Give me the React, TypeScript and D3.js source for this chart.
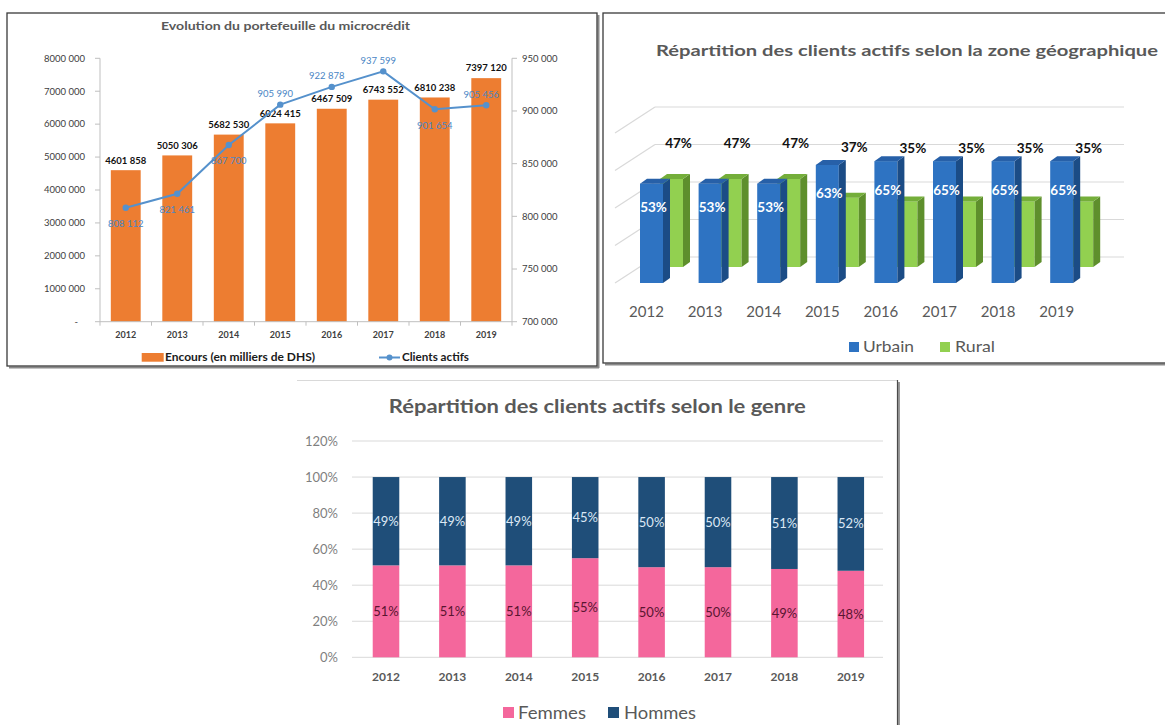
import React from 'react';
import * as d3 from 'd3';

// ---------- DATA ----------
const years = ['2012', '2013', '2014', '2015', '2016', '2017', '2018', '2019'];
const encours = [4601858, 5050306, 5682530, 6024415, 6467509, 6743552, 6810238, 7397120];
const clientsActifs = [808112, 821461, 867700, 905990, 922878, 937599, 901654, 905456];
const encoursTicks = [0, 1000000, 2000000, 3000000, 4000000, 5000000, 6000000, 7000000, 8000000];
const clientsTicks = [700000, 750000, 800000, 850000, 900000, 950000];

const urbain = [53, 53, 53, 63, 65, 65, 65, 65];
const rural = [47, 47, 47, 37, 35, 35, 35, 35];
const geoGrid = [0, 20, 40, 60, 80];

const femmes = [51, 51, 51, 55, 50, 50, 49, 48];
const hommes = [49, 49, 49, 45, 50, 50, 51, 52];
const pctTicks = [0, 20, 40, 60, 80, 100, 120];

// ---------- LAYOUT / STYLE ----------
const FONT = 'Lato, "Open Sans", sans-serif';
const lineLabelSide = ['below', 'below', 'below', 'above', 'above', 'above', 'below', 'above'];

function fmtSpace(n: number) {
  if (n === 0) return '-';
  const th = Math.floor(n / 1000);
  const r = n % 1000;
  return `${th} ${String(r).padStart(3, '0')}`;
}

function Chart1() {
  const x = d3.scaleBand<string>().domain(years).range([100, 512]).paddingInner(0.42).paddingOuter(0.21);
  const yL = d3.scaleLinear().domain([0, 8000000]).range([321.7, 58.3]);
  const yR = d3.scaleLinear().domain([700000, 950000]).range([321.7, 58.3]);
  const cx = (i: number) => (x(years[i]) as number) + x.bandwidth() / 2;
  const line = d3.line<number>().x((_, i) => cx(i)).y((d) => yR(d));
  const [r0, r1] = x.range();
  const boundaries = d3.range(years.length + 1).map((j) => r0 + j * x.step());
  const lineColor = '#5591CC';
  return (
    <g fontFamily={FONT}>
      {/* panel */}
      <line x1={9} y1={367.5} x2={599} y2={367.5} stroke="#8a8a8a" strokeWidth={2} />
      <line x1={598.5} y1={15} x2={598.5} y2={368} stroke="#8a8a8a" strokeWidth={2} />
      <rect x={7} y={13} width={590} height={353} fill="#fff" stroke="#3a3a3a" strokeWidth={1.3} />
      <text x={285.5} y={30} textAnchor="middle" fontSize={11} fontWeight={700} fill="#595959" textLength={249} lengthAdjust="spacingAndGlyphs">
        Evolution du portefeuille du microcrédit
      </text>
      {/* bars */}
      {encours.map((v, i) => (
        <rect key={i} x={x(years[i])} y={yL(v)} width={x.bandwidth()} height={yL(0) - yL(v)} fill="#ED7D31" />
      ))}
      {/* axes */}
      <line x1={r0} y1={yL(8000000)} x2={r0} y2={yL(0)} stroke="#bfbfbf" />
      <line x1={r1} y1={yR(950000)} x2={r1} y2={yR(700000)} stroke="#bfbfbf" />
      <line x1={r0} y1={yL(0)} x2={r1} y2={yL(0)} stroke="#bfbfbf" />
      {encoursTicks.map((t) => (
        <g key={t}>
          <line x1={r0 - 5} x2={r0} y1={yL(t)} y2={yL(t)} stroke="#bfbfbf" />
          <text x={t === 0 ? 78 : 85} y={yL(t)} dy="0.35em" textAnchor="end" fontSize={9.5} fill="#404040">
            {fmtSpace(t)}
          </text>
        </g>
      ))}
      {clientsTicks.map((t) => (
        <g key={t}>
          <line x1={r1} x2={r1 + 5} y1={yR(t)} y2={yR(t)} stroke="#bfbfbf" />
          <text x={522} y={yR(t)} dy="0.35em" textAnchor="start" fontSize={9.5} fill="#404040">
            {fmtSpace(t)}
          </text>
        </g>
      ))}
      {boundaries.map((b, j) => (
        <line key={j} x1={b} x2={b} y1={yL(0)} y2={yL(0) + 4} stroke="#bfbfbf" />
      ))}
      {years.map((yr, i) => (
        <text key={yr} x={cx(i)} y={335} dy="0.35em" textAnchor="middle" fontSize={9} fontWeight={700} fill="#404040">
          {yr}
        </text>
      ))}
      {/* bar labels */}
      {encours.map((v, i) => (
        <text key={i} x={cx(i)} y={yL(v) - 10} dy="0.35em" textAnchor="middle" fontSize={9.5} fontWeight={700} fill="#111">
          {fmtSpace(v)}
        </text>
      ))}
      {/* line */}
      <path d={line(clientsActifs) as string} fill="none" stroke={lineColor} strokeWidth={2} />
      {clientsActifs.map((v, i) => (
        <circle key={i} cx={cx(i)} cy={yR(v)} r={3.2} fill={lineColor} />
      ))}
      {clientsActifs.map((v, i) => {
        const above = lineLabelSide[i] === 'above';
        return (
          <text key={i} x={cx(i) + (above ? -5 : 0)} y={yR(v) + (above ? -11 : 16)} dy="0.35em" textAnchor="middle" fontSize={9.5} fill="#4A86C5">
            {fmtSpace(v)}
          </text>
        );
      })}
      {/* legend */}
      <rect x={141.7} y={353} width={22} height={8.7} fill="#ED7D31" />
      <text x={165} y={357.5} dy="0.35em" fontSize={10.5} fontWeight={700} fill="#1a1a1a" textLength={150} lengthAdjust="spacingAndGlyphs">
        Encours (en milliers de DHS)
      </text>
      <line x1={379} x2={400} y1={357.5} y2={357.5} stroke={lineColor} strokeWidth={2} />
      <circle cx={389.5} cy={357.5} r={3} fill={lineColor} />
      <text x={402} y={357.5} dy="0.35em" fontSize={10.5} fontWeight={700} fill="#1a1a1a" textLength={67} lengthAdjust="spacingAndGlyphs">
        Clients actifs
      </text>
    </g>
  );
}

function Chart2() {
  const step = 58.6;
  const x = d3.scaleBand<string>().domain(years).range([620, 620 + step * years.length]);
  const k = d3.scaleLinear().domain([0, 80]).range([0, 150]);
  const ruralLabelY = d3.scaleLinear().domain([35, 47]).range([148, 143]);
  const floorU = 283, floorR = 267, floorW = 257;
  const w = 23, ddx = 7, ddy = -5;
  const bar = (x0: number, floor: number, h: number, cf: string, cs: string, ct: string, key: string) => {
    const top = floor - h;
    return (
      <g key={key}>
        <rect x={x0} y={top} width={w} height={h} fill={cf} />
        <polygon points={`${x0 + w},${top} ${x0 + w + ddx},${top + ddy} ${x0 + w + ddx},${floor + ddy} ${x0 + w},${floor}`} fill={cs} />
        <polygon points={`${x0},${top} ${x0 + ddx},${top + ddy} ${x0 + w + ddx},${top + ddy} ${x0 + w},${top}`} fill={ct} />
      </g>
    );
  };
  return (
    <g fontFamily={FONT}>
      <line x1={605} y1={364.5} x2={1170} y2={364.5} stroke="#8a8a8a" strokeWidth={2} />
      <rect x={603} y={13} width={580} height={350} fill="#fff" stroke="#3a3a3a" strokeWidth={1.3} />
      <text x={656} y={51} dy="0.35em" fontSize={15} fontWeight={700} fill="#595959" textLength={502} lengthAdjust="spacingAndGlyphs">
        Répartition des clients actifs selon la zone géographique
      </text>
      {/* walls */}
      {geoGrid.map((g) => {
        const yy = floorW - k(g);
        return (
          <g key={g}>
            <line x1={655} x2={1124} y1={yy} y2={yy} stroke="#d9d9d9" strokeWidth={1.2} />
            <line x1={615} x2={655} y1={yy + 26} y2={yy} stroke="#d9d9d9" strokeWidth={1.2} />
          </g>
        );
      })}
      {rural.map((v, i) => bar((x(years[i]) as number) + 40, floorR, k(v), '#92D050', '#5E8F2C', '#74AE3A', 'r' + i))}
      {urbain.map((v, i) => bar((x(years[i]) as number) + 20, floorU, k(v), '#2E73C2', '#1B4C86', '#2760A8', 'u' + i))}
      {urbain.map((v, i) => (
        <text key={'ul' + i} x={(x(years[i]) as number) + 20 + w / 2 + 2} y={floorU - 0.76 * k(v)} dy="0.35em" textAnchor="middle" fontSize={13.5} fontWeight={700} fill="#fff">
          {v}%
        </text>
      ))}
      {rural.map((v, i) => (
        <text key={'rl' + i} x={(x(years[i]) as number) + 40 + w / 2 + 7} y={ruralLabelY(v)} dy="0.35em" textAnchor="middle" fontSize={13.5} fontWeight={700} fill="#111">
          {v}%
        </text>
      ))}
      {years.map((yr) => (
        <text key={yr} x={(x(yr) as number) + 26.5} y={312} dy="0.35em" textAnchor="middle" fontSize={15} fill="#595959">
          {yr}
        </text>
      ))}
      <rect x={849} y={342} width={10} height={10} fill="#2E73C2" />
      <text x={863} y={347} dy="0.35em" fontSize={15} fill="#595959" textLength={51} lengthAdjust="spacingAndGlyphs">Urbain</text>
      <rect x={940} y={342} width={10} height={10} fill="#92D050" />
      <text x={955} y={347} dy="0.35em" fontSize={15} fill="#595959" textLength={40} lengthAdjust="spacingAndGlyphs">Rural</text>
    </g>
  );
}

function Chart3() {
  const x = d3.scaleBand<string>().domain(years).range([352.8, 884]).paddingInner(0.6).paddingOuter(0.3);
  const y = d3.scaleLinear().domain([0, 120]).range([657.3, 441]);
  const rows = years.map((yr, i) => ({ year: yr, Femmes: femmes[i], Hommes: hommes[i] }));
  const stacked = d3.stack<any>().keys(['Femmes', 'Hommes'])(rows);
  const colors: Record<string, string> = { Femmes: '#F4679C', Hommes: '#1F4E79' };
  const labelColors: Record<string, string> = { Femmes: '#5A1530', Hommes: '#DCE8F5' };
  return (
    <g fontFamily={FONT}>
      <line x1={297} x2={897} y1={380.5} y2={380.5} stroke="#d9d9d9" />
      <line x1={899} x2={899} y1={382} y2={725} stroke="#9a9a9a" strokeWidth={2} />
      <line x1={897.5} x2={897.5} y1={380} y2={725} stroke="#4a4a4a" strokeWidth={1.2} />
      <text x={597.3} y={407} dy="0.35em" textAnchor="middle" fontSize={18} fontWeight={700} fill="#595959" textLength={417} lengthAdjust="spacingAndGlyphs">
        Répartition des clients actifs selon le genre
      </text>
      {pctTicks.map((t) => (
        <g key={t}>
          <line x1={352} x2={883} y1={y(t)} y2={y(t)} stroke="#d9d9d9" />
          <text x={338} y={y(t)} dy="0.35em" textAnchor="end" fontSize={13} fill="#7f7f7f">{t}%</text>
        </g>
      ))}
      {stacked.map((s) => (
        <g key={s.key}>
          {s.map((d, i) => (
            <rect key={i} x={x(years[i])} y={y(d[1])} width={x.bandwidth()} height={y(d[0]) - y(d[1])} fill={colors[s.key]} />
          ))}
        </g>
      ))}
      {stacked.map((s) => (
        <g key={'l' + s.key}>
          {s.map((d, i) => (
            <text key={i} x={(x(years[i]) as number) + x.bandwidth() / 2} y={y((d[0] + d[1]) / 2)} dy="0.35em" textAnchor="middle" fontSize={13} fill={labelColors[s.key]}>
              {d[1] - d[0]}%
            </text>
          ))}
        </g>
      ))}
      {years.map((yr) => (
        <text key={yr} x={(x(yr) as number) + x.bandwidth() / 2} y={677} dy="0.35em" textAnchor="middle" fontSize={12} fontWeight={700} fill="#595959">
          {yr}
        </text>
      ))}
      <rect x={503} y={707} width={11} height={11} fill={colors.Femmes} />
      <text x={518} y={713} dy="0.35em" fontSize={17} fill="#595959" textLength={68} lengthAdjust="spacingAndGlyphs">Femmes</text>
      <rect x={608} y={707} width={11} height={11} fill={colors.Hommes} />
      <text x={624} y={713} dy="0.35em" fontSize={17} fill="#595959" textLength={72} lengthAdjust="spacingAndGlyphs">Hommes</text>
    </g>
  );
}

export default function App() {
  return (
    <svg width={1165} height={725} style={{ position: 'absolute', left: 0, top: 0, background: '#fff' }}>
      <rect x={0} y={0} width={1165} height={725} fill="#fff" />
      <Chart1 />
      <Chart2 />
      <Chart3 />
    </svg>
  );
}
